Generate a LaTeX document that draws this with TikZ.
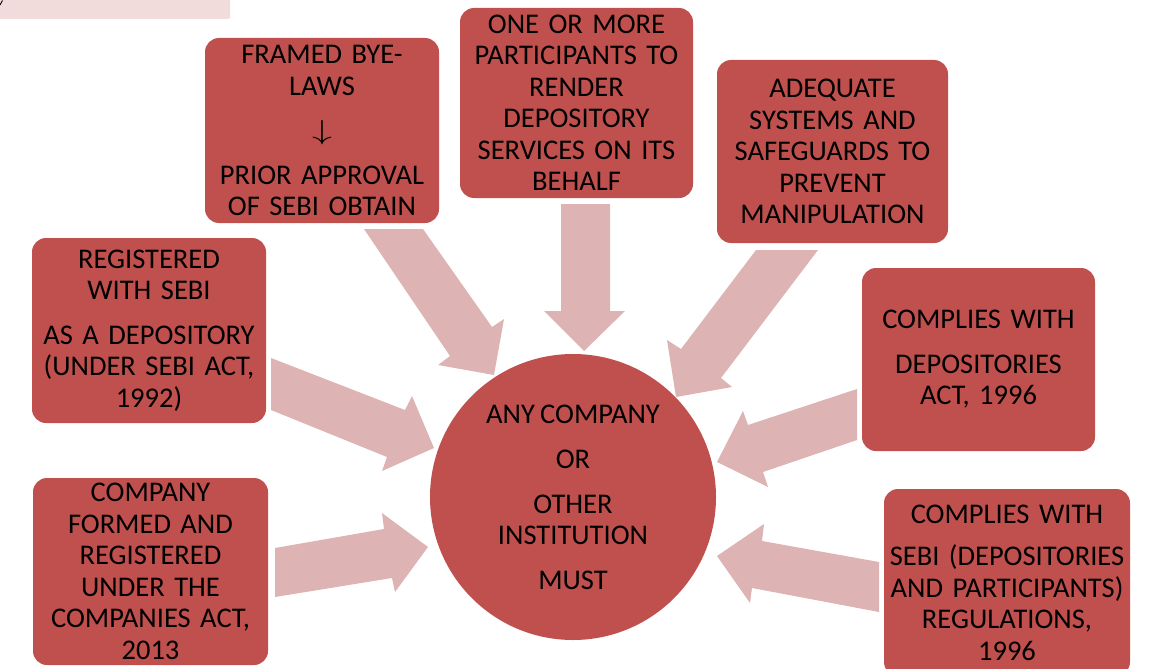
\documentclass[tikz,border=0pt]{standalone}
\usepackage{fontspec}
\setmainfont{Carlito}
\definecolor{boxred}{RGB}{192,80,77}
\definecolor{arrpink}{RGB}{221,179,179}
\definecolor{toppink}{RGB}{242,220,219}
\newcommand\myboxfont{\fontsize{28.5}{31.5}\selectfont\spaceskip=5.2pt plus 1pt minus 1pt\relax}
\begin{document}
\begin{tikzpicture}[x=1pt,y=-1pt,
  box/.style={fill=boxred, rounded corners=14pt, inner sep=0pt, align=center,
    font=\myboxfont, text=black},
  circ/.style={fill=boxred, circle, inner sep=0pt, minimum size=286pt, align=center,
    font=\myboxfont, text=black},
  arr/.style={fill=arrpink}]
\useasboundingbox (0,0) rectangle (1154,669);
\fill[toppink, rounded corners=2pt] (-5,-5) rectangle (230,19);
\draw[line width=0.9pt] (0,5) -- (2.5,0.5);

% arrows
\fill[arr] (364,229) -- (423,229) -- (492,327) -- (504,319) -- (494,375) -- (438,365) -- (450,356) -- cycle;
\fill[arr] (561,204) -- (610,204) -- (610,311) -- (625,311) -- (584,351) -- (544,311) -- (561,311) -- cycle;
\fill[arr] (756,250) -- (818,250) -- (721,378) -- (732,387) -- (676,397) -- (667,340) -- (681,349) -- cycle;
\fill[arr] (271,358) -- (405,410) -- (412,396) -- (434,448) -- (382,471) -- (387,457) -- (271,410) -- cycle;
\fill[arr] (857,389) -- (748,425) -- (743,411) -- (717,462) -- (768,487) -- (763,472) -- (857,440) -- cycle;
\fill[arr] (275,548) -- (384,529) -- (382,513) -- (428,547) -- (395,592) -- (392,578) -- (275,597) -- cycle;
\fill[arr] (879,562) -- (762,541) -- (764,524) -- (717,556) -- (750,603) -- (752,588) -- (879,612) -- cycle;

% boxes
\node[box, minimum width=234pt, minimum height=185pt, text width=230pt] (bylaws) at (322,130.5)
  {FRAMED BYE-\\LAWS\\[13pt]\scalebox{1.6}[1.1]{$\downarrow$}\\[13pt]PRIOR APPROVAL\\OF SEBI OBTAIN};
\node[box, minimum width=233pt, minimum height=190pt, text width=230pt] (particip) at (576.5,103)
  {ONE OR MORE\\PARTICIPANTS TO\\RENDER\\DEPOSITORY\\SERVICES ON ITS\\BEHALF};
\node[box, minimum width=231pt, minimum height=183pt, text width=228pt] (adequate) at (832.5,151.5)
  {ADEQUATE\\SYSTEMS AND\\SAFEGUARDS TO\\PREVENT\\MANIPULATION};
\node[box, minimum width=234pt, minimum height=185pt, text width=230pt] (registered) at (149,330.5)
  {REGISTERED\\WITH SEBI\\[13pt]AS A DEPOSITORY\\(UNDER SEBI ACT,\\1992)};
\node[box, minimum width=233pt, minimum height=183pt, text width=230pt] (depact) at (978.5,359.5)
  {COMPLIES WITH\\[13pt]DEPOSITORIES\\ACT, 1996};
\node[box, minimum width=235pt, minimum height=187pt, text width=232pt] (company) at (150.5,571.5)
  {COMPANY\\FORMED AND\\REGISTERED\\UNDER THE\\COMPANIES ACT,\\2013};
\node[box, minimum width=246pt, minimum height=187pt, text width=244pt] (sebireg) at (1007,582.5)
  {COMPLIES WITH\\[11pt]SEBI (DEPOSITORIES\\AND PARTICIPANTS)\\REGULATIONS,\\1996};

% centre
\node[circ] (centre) at (573,497)
  {ANY COMPANY\\[14pt]OR\\[13pt]OTHER\\INSTITUTION\\[13pt]MUST};
\end{tikzpicture}
\end{document}
